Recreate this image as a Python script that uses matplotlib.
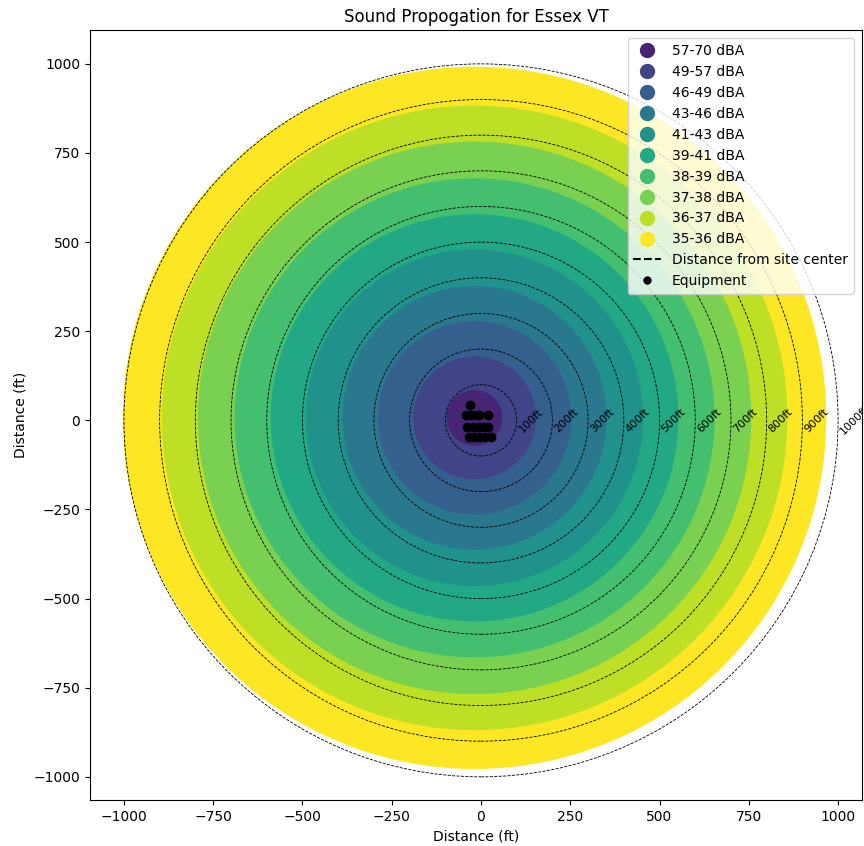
import matplotlib
matplotlib.use("Agg")
import matplotlib.pyplot as plt
from matplotlib.patches import Circle
from matplotlib.lines import Line2D
import numpy as np

# ---- data ----
band_labels = ["57-70 dBA", "49-57 dBA", "46-49 dBA", "43-46 dBA", "41-43 dBA",
               "39-41 dBA", "38-39 dBA", "37-38 dBA", "36-37 dBA", "35-36 dBA"]
band_outer_radius_ft = [78, 172, 271, 370, 472, 571, 672, 775, 876, 985]
band_center_ft = (-18, 7)

ring_radius_ft = [100, 200, 300, 400, 500, 600, 700, 800, 900, 1000]
ring_labels = ["100ft", "200ft", "300ft", "400ft", "500ft",
               "600ft", "700ft", "800ft", "900ft", "1000ft"]

equip_x = [-31, -43, -30, -17, -5, 20, -38, -22, -6, 8, 21, -35, -20, -5, 10, 27]
equip_y = [44, 16, 16, 16, 16, 16, -19, -19, -19, -19, -19, -47, -47, -47, -47, -47]

# ---- figure ----
fig = plt.figure(figsize=(8.64, 8.46), dpi=100)
ax = fig.add_axes([90 / 864, 46 / 846, 772 / 864, 770 / 846])

cmap = plt.get_cmap("viridis")
colors = [cmap(v) for v in np.linspace(0.1, 1.0, len(band_labels))]

# draw bands from outside in
for r, c in sorted(zip(band_outer_radius_ft, colors), key=lambda t: -t[0]):
    ax.add_patch(Circle(band_center_ft, r, facecolor=c, edgecolor="none", zorder=1))

for r, lab in zip(ring_radius_ft, ring_labels):
    ax.add_patch(Circle((0, 0), r, fill=False, edgecolor="black", linestyle="--",
                        linewidth=0.6, zorder=2))
    ax.text(r, 0, lab, rotation=45, ha="left", va="center", fontsize=8,
            clip_on=True, zorder=3)

ax.scatter(equip_x, equip_y, s=36, color="black", zorder=4)

ax.set_xlim(-1095, 1067)
ax.set_ylim(-1065, 1095)
ax.set_xticks([-1000, -750, -500, -250, 0, 250, 500, 750, 1000])
ax.set_yticks([-1000, -750, -500, -250, 0, 250, 500, 750, 1000])
ax.set_xlabel("Distance (ft)")
ax.set_ylabel("Distance (ft)")
ax.set_title("Sound Propogation for Essex VT")

handles = [Line2D([0], [0], marker="o", linestyle="none", markersize=10,
                  markerfacecolor=c, markeredgecolor=c, label=l)
           for c, l in zip(colors, band_labels)]
handles.append(Line2D([0], [0], color="black", linestyle="--", label="Distance from site center"))
handles.append(Line2D([0], [0], marker="o", linestyle="none", markersize=5,
                      markerfacecolor="black", markeredgecolor="black", label="Equipment"))
ax.legend(handles=handles, loc="upper right", borderaxespad=0.6)

fig.savefig("out.png", dpi=100)
